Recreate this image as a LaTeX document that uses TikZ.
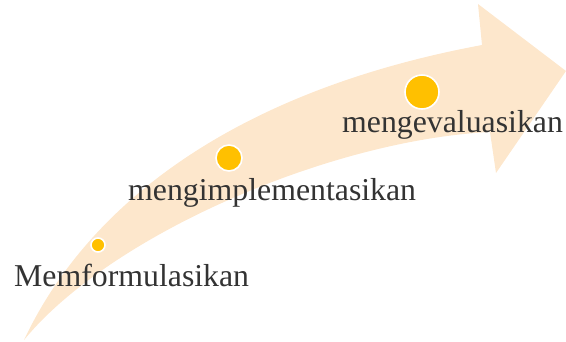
\documentclass[tikz,border=0pt]{standalone}
\usepackage{fontspec}
\setmainfont{Liberation Serif}
\definecolor{bandpeach}{HTML}{FDE7CC}
\definecolor{dotgold}{HTML}{FFC000}
\definecolor{labelgray}{HTML}{333333}
\tikzset{
  band/.style={fill=bandpeach, draw=none},
  dot/.style={circle, fill=dotgold, draw=white, line width=1.6pt, inner sep=0pt},
  steplabel/.style={anchor=base west, inner sep=0pt, text=labelgray, font=\fontsize{31.8}{36}\selectfont}
}
\begin{document}
\begin{tikzpicture}[x=1pt,y=-1pt]
\useasboundingbox (0,0) rectangle (566,341);
\clip (0,0) rectangle (566,341);
% curved arrow
\coordinate (tail) at (24,340);
\coordinate (notchup) at (482,45);
\coordinate (headtop) at (478,4);
\coordinate (headtip) at (566,71);
\coordinate (headbot) at (496,173);
\coordinate (notchlow) at (490,132);
\fill[band] (tail) .. controls (90,200) and (240,90) .. (notchup)
  -- (headtop) -- (headtip) -- (headbot) -- (notchlow)
  .. controls (330,140) and (110,235) .. (tail) -- cycle;
% dots
\node[dot, minimum size=14pt] (d1) at (98,245) {};
\node[dot, minimum size=26pt] (d2) at (229,158) {};
\node[dot, minimum size=34pt] (d3) at (422,92) {};
% labels
\node[steplabel] (l1) at (14,286) {Memformulasikan};
\node[steplabel] (l2) at (128,200) {mengimplementasikan};
\node[steplabel] (l3) at (342,132) {mengevaluasikan};
\end{tikzpicture}
\end{document}
